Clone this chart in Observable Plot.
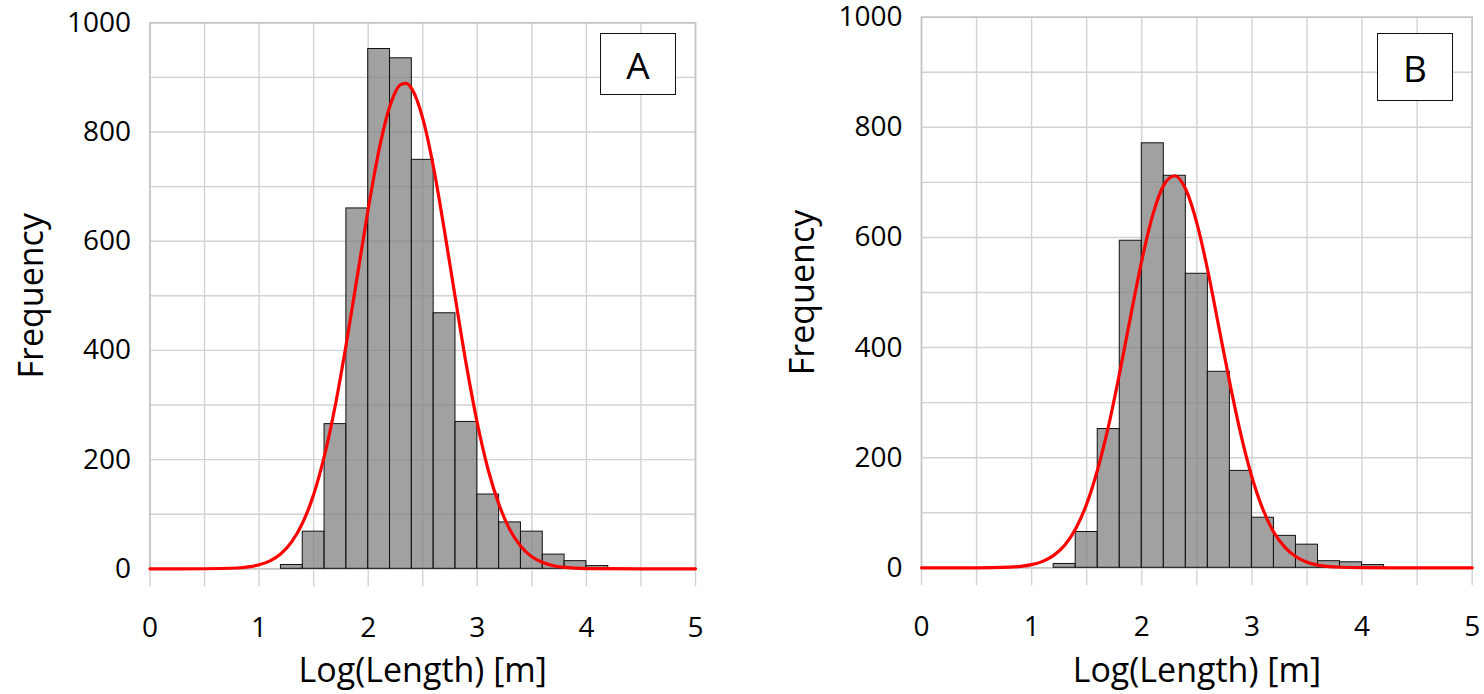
<!DOCTYPE html>
<html><head><meta charset="utf-8">
<script src="https://cdn.jsdelivr.net/npm/d3@7"></script>
<script src="https://cdn.jsdelivr.net/npm/@observablehq/plot@0.6"></script>
<style>
html,body{margin:0;padding:0;background:#fff}
body{width:1484px;height:694px;position:relative;overflow:hidden;font-family:"Open Sans",sans-serif}
.panel{position:absolute;top:0}
.tag{position:absolute;border:1.8px solid #111;background:#fff;display:flex;align-items:center;justify-content:center;font-size:37px;box-sizing:border-box;font-family:"Open Sans",sans-serif;color:#000}
</style></head><body>
<div id="pa" class="panel" style="left:0"></div>
<div id="pb" class="panel" style="left:742px"></div>
<div class="tag" style="left:600px;top:33px;width:76px;height:62px">A</div>
<div class="tag" style="left:1377px;top:33px;width:76px;height:68px">B</div>
<script>
// Histogram bins (left edges) and bin width
const binStarts = [1.2,1.4,1.6,1.8,2.0,2.2,2.4,2.6,2.8,3.0,3.2,3.4,3.6,3.8,4.0];
const binWidth = 0.2;
const countsA = [7,68,265,660,952,935,749,468,269,136,85,68,26,14,5];
const countsB = [7,65,252,594,771,712,534,356,176,91,58,42,12,10,5];

// Fitted curves
const fitXA = [0,0.5,0.8,0.9,1.0,1.1,1.2,1.3,1.4,1.5,1.6,1.7,1.8,1.9,2.0,2.1,2.2,2.3,2.35,2.4,2.5,2.6,2.7,2.8,2.9,3.0,3.1,3.2,3.3,3.4,3.5,3.6,3.7,3.8,4.0,4.5,5.0];
const fitA  = [0,0.1,1.5,3.4,7.3,14.6,27.6,49.7,84.5,136,208,301,413,536,659,768,848,887,889,879,825,734,618,494,373,267,181,117,71,41,22,11.6,5.7,2.6,0.4,0,0];
const fitXB = [0,0.5,0.8,0.9,1.0,1.1,1.2,1.3,1.4,1.5,1.6,1.7,1.8,1.9,2.0,2.1,2.2,2.3,2.4,2.5,2.6,2.7,2.8,2.9,3.0,3.1,3.2,3.3,3.4,3.5,3.6,3.7,3.8,4.0,4.5,5.0];
const fitB  = [0,0,1.1,2.6,5.7,11.7,22.6,41,71,116,179,259,355,458,558,641,695,712,687,626,539,437,335,242,165,106,64,37,20,10,4.9,2.2,1,0.2,0,0];

const xTickLabels = [0,1,2,3,4,5];
const yTickLabels = [0,200,400,600,800,1000];
const xLabel = "Log(Length) [m]";
const yLabel = "Frequency";

const gridXVals = d3.range(0, 5.001, 0.5);
const gridYVals = d3.range(0, 1000.1, 100);

function panel(counts, fitX, fit, m) {
  return Plot.plot({
    width: 742, height: 694,
    marginLeft: m.l, marginRight: m.r, marginTop: m.t, marginBottom: m.b,
    style: {fontFamily: "'Open Sans', sans-serif", fontSize: "28px", color: "#000", background: "transparent", overflow: "visible"},
    x: {domain: [0, 5]},
    y: {domain: [0, 1000]},
    marks: [
      Plot.gridX(gridXVals, {stroke: "#d2d2d2", strokeOpacity: 1, strokeWidth: 1.4}),
      Plot.gridY(gridYVals, {stroke: "#d2d2d2", strokeOpacity: 1, strokeWidth: 1.4}),
      Plot.frame({stroke: "#c4c4c4", strokeWidth: 1.6}),
      Plot.axisX(gridXVals, {tickSize: 18, tickPadding: 30, stroke: "#d2d2d2", strokeWidth: 1.4,
        tickFormat: d => xTickLabels.includes(d) ? String(d) : "", label: null, fontSize: 28}),
      Plot.axisY(yTickLabels, {tickSize: 0, tickPadding: 19, label: null, fontSize: 28, tickFormat: d => String(d)}),
      Plot.rectY(binStarts, {x1: d => d, x2: d => d + binWidth, y: (d, i) => counts[i],
        fill: "#808080", fillOpacity: 0.74, stroke: "#111", strokeWidth: 1}),
      Plot.line(fitX, {x: d => d, y: (d, i) => fit[i], stroke: "#ff0000", strokeWidth: 3.2, curve: "monotone-x"}),
      Plot.text([yLabel], {frameAnchor: "left", textAnchor: "middle", lineAnchor: "middle", rotate: -90, dx: m.ydx, fontSize: 34}),
      Plot.text([xLabel], {frameAnchor: "bottom", textAnchor: "middle", lineAnchor: "middle", dy: m.xdy, fontSize: 34})
    ]
  });
}

document.getElementById("pa").append(panel(countsA, fitXA, fitA, {l: 149.5, r: 47, t: 22.3, b: 125.7, ydx: -117.9, xdy: 102.5}));
document.getElementById("pb").append(panel(countsB, fitXB, fitB, {l: 179, r: 12.3, t: 16.7, b: 126.7, ydx: -118.4, xdy: 103.5}));
</script>
</body></html>
